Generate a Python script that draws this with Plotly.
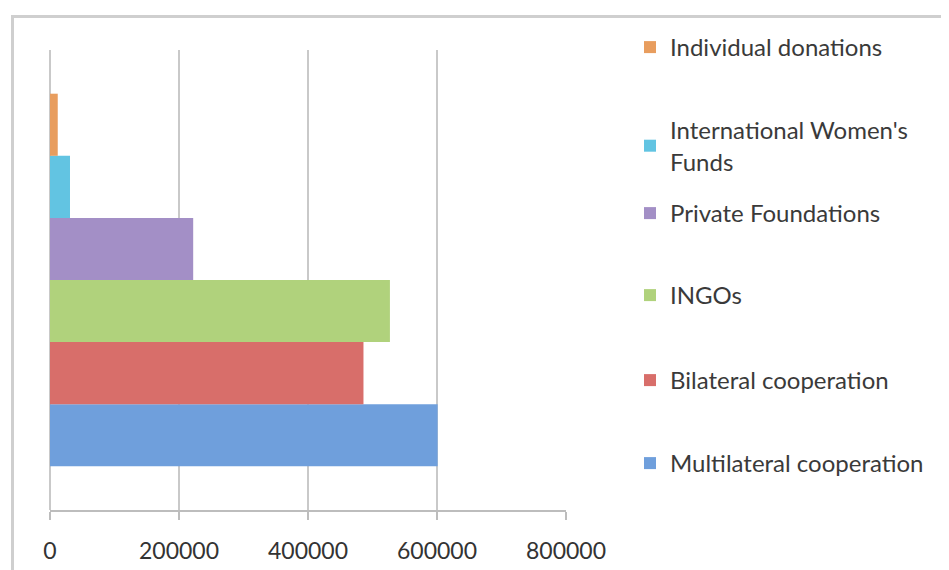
import plotly.graph_objects as go

# Data (bottom to top in plot)
series_names = [
    "Multilateral cooperation",
    "Bilateral cooperation",
    "INGOs",
    "Private Foundations",
    "International Women's<br>Funds",
    "Individual donations",
]
series_values = [601000, 486000, 527000, 222000, 31000, 12000]
series_colors = ["#6f9fdc", "#d86e6a", "#b0d27c", "#a38fc6", "#62c4e2", "#e89d5e"]
category = [""]
tick_vals = [0, 200000, 400000, 600000, 800000]
tick_text = ["0", "200000", "400000", "600000", "800000"]

W, H = 949, 570
OFF = 8  # page body margin
# target screen pixels of plot area
sx0, sx1, sy0, sy1 = 50, 566, 50, 510
L = sx0 - OFF
R = W - (sx1 - OFF)
T = sy0 - OFF
B = H - (sy1 - OFF)
plot_w = W - L - R
plot_h = H - T - B

def px_to_paper_y(py):
    return (H - B - (py - OFF)) / plot_h

def px_to_paper_x(px):
    return ((px - OFF) - L) / plot_w

# legend item text-center y positions (screen pixels)
legend_y_px = [463, 380, 295, 213, 130, 47]

fig = go.Figure()
layout_legends = {}
for i, (name, val, col) in enumerate(zip(series_names, series_values, series_colors)):
    lname = "legend" if i == 0 else f"legend{i+1}"
    fig.add_trace(go.Bar(
        y=category, x=[val], orientation="h", name=name,
        marker=dict(color=col, line=dict(width=0)),
        legend=lname, showlegend=True,
    ))
    top_px = legend_y_px[i] - 22
    layout_legends[lname] = dict(
        x=px_to_paper_x(630), xanchor="left",
        y=px_to_paper_y(top_px), yanchor="top",
        bgcolor="rgba(0,0,0,0)",
        font=dict(family="Lato", size=24, color="#3a3a3a"),
        itemwidth=30,
    )

fig.update_layout(
    width=W, height=H,
    margin=dict(l=L, r=R, t=T, b=B),
    paper_bgcolor="white", plot_bgcolor="white",
    barmode="group", bargap=0.19, bargroupgap=0,
    font=dict(family="Lato", size=23, color="#333333"),
    **layout_legends,
)

fig.update_xaxes(
    range=[0, 800000], tickvals=tick_vals, ticktext=tick_text,
    showgrid=True, gridcolor="#c9c9c9", gridwidth=2,
    zeroline=True, zerolinecolor="#c9c9c9", zerolinewidth=2,
    showline=True, linecolor="#bdbdbd", linewidth=2,
    ticks="outside", ticklen=8, tickcolor="#bdbdbd", tickwidth=2,
    tickfont=dict(family="Lato", size=23, color="#333333"),
    ticklabelstandoff=11,
)
fig.update_yaxes(showticklabels=False, showgrid=False, zeroline=False, showline=False)

# chart-area border (light gray frame)
fig.add_shape(
    type="rect", xref="paper", yref="paper",
    x0=px_to_paper_x(12.5), x1=px_to_paper_x(947.5),
    y0=px_to_paper_y(620), y1=px_to_paper_y(16.5),
    line=dict(color="#cfcfcf", width=3), fillcolor="rgba(0,0,0,0)", layer="below",
)

fig.write_html("out.html")
